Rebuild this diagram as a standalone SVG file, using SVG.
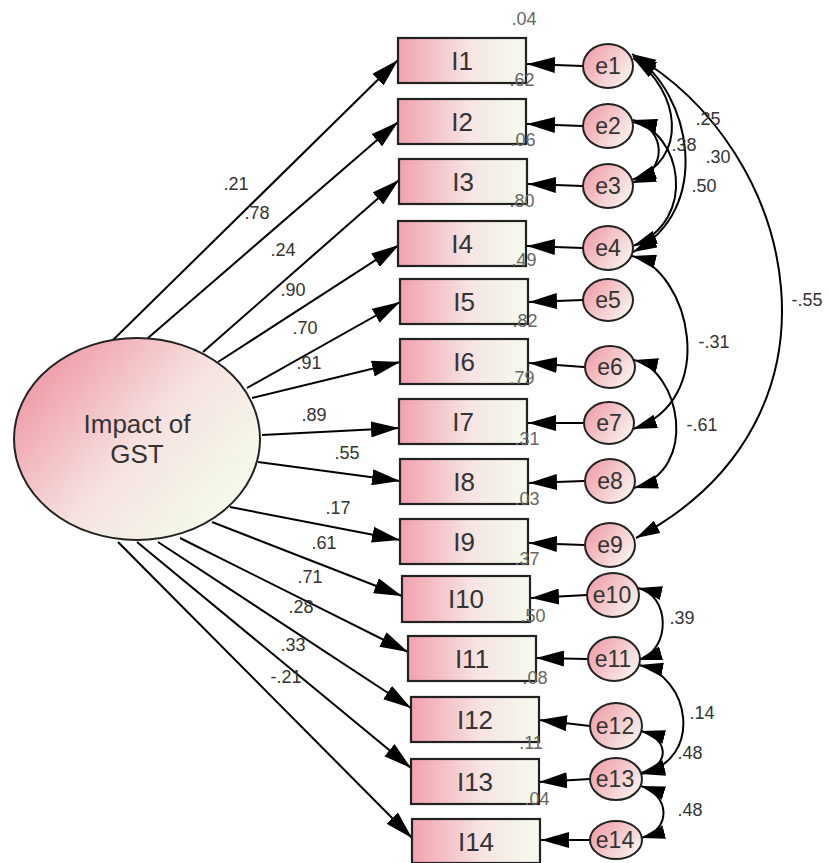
<svg xmlns="http://www.w3.org/2000/svg" width="829" height="863" viewBox="0 0 829 863">
<defs>
<linearGradient id="gRect" x1="0" y1="0" x2="1" y2="0">
<stop offset="0" stop-color="#f2a2ad"/>
<stop offset="0.55" stop-color="#f6e4e3"/>
<stop offset="1" stop-color="#f4fbee"/>
</linearGradient>
<linearGradient id="gErr" x1="0" y1="0.2" x2="1" y2="0.8">
<stop offset="0" stop-color="#ef9ca7"/>
<stop offset="1" stop-color="#f8f6ef"/>
</linearGradient>
<linearGradient id="gBig" x1="0" y1="0.25" x2="0.85" y2="0.85">
<stop offset="0" stop-color="#ef98a4"/>
<stop offset="0.55" stop-color="#f6e2e0"/>
<stop offset="1" stop-color="#f3faea"/>
</linearGradient>
<marker id="arr" viewBox="0 0 28 16" markerWidth="28" markerHeight="16" refX="28" refY="8" orient="auto" markerUnits="userSpaceOnUse">
<path d="M0,0 L28,8 L0,16 z" fill="#000"/>
</marker>
<marker id="carr" viewBox="0 0 24 14" markerWidth="24" markerHeight="14" refX="24" refY="7" orient="auto-start-reverse" markerUnits="userSpaceOnUse">
<path d="M0,0 L24,7 L0,14 z" fill="#000"/>
</marker>
</defs>
<style>
.obs{fill:url(#gRect);stroke:#222;stroke-width:2.2}
.err{fill:url(#gErr);stroke:#222;stroke-width:2}
.big{fill:url(#gBig);stroke:#222;stroke-width:2}
.lbl{font-family:"Liberation Sans",Arial,sans-serif;font-size:26px;fill:#333;text-anchor:middle}
.elbl{font-family:"Liberation Sans",Arial,sans-serif;font-size:23px;fill:#333;text-anchor:middle}
.coef{font-family:"Liberation Sans",Arial,sans-serif;font-size:18px;fill:#333;text-anchor:middle}
.r2{font-family:"Liberation Sans",Arial,sans-serif;font-size:18px;fill:#666;text-anchor:middle}
.path{fill:none;stroke:#000;stroke-width:2;marker-end:url(#arr)}
.cov{fill:none;stroke:#000;stroke-width:2;marker-start:url(#carr);marker-end:url(#carr)}
</style>
<rect width="829" height="863" fill="#fff"/>

<g id="connectors">
<line class="path" x1="113" y1="340" x2="398" y2="60"/>
<line class="path" x1="148" y1="338" x2="398" y2="122"/>
<line class="path" x1="203" y1="352" x2="399" y2="180"/>
<line class="path" x1="218" y1="362" x2="399" y2="245"/>
<line class="path" x1="247" y1="388" x2="400" y2="302"/>
<line class="path" x1="252" y1="398" x2="400" y2="362"/>
<line class="path" x1="262" y1="435" x2="399" y2="428"/>
<line class="path" x1="258" y1="462" x2="400" y2="481"/>
<line class="path" x1="230" y1="507" x2="400" y2="540"/>
<line class="path" x1="212" y1="522" x2="402" y2="596"/>
<line class="path" x1="180" y1="538" x2="408" y2="652"/>
<line class="path" x1="158" y1="542" x2="411" y2="708"/>
<line class="path" x1="137" y1="542" x2="411" y2="768"/>
<line class="path" x1="118" y1="542" x2="412" y2="838"/>

<line class="path" x1="583" y1="66" x2="527" y2="64"/>
<line class="path" x1="583" y1="126" x2="527" y2="124"/>
<line class="path" x1="583" y1="186" x2="528" y2="184"/>
<line class="path" x1="583" y1="248" x2="527" y2="246"/>
<line class="path" x1="583" y1="300" x2="529" y2="302"/>
<line class="path" x1="584" y1="367" x2="529" y2="363"/>
<line class="path" x1="583" y1="423" x2="528" y2="423"/>
<line class="path" x1="584" y1="481" x2="529" y2="483"/>
<line class="path" x1="584" y1="545" x2="529" y2="543"/>
<line class="path" x1="587" y1="595" x2="531" y2="598"/>
<line class="path" x1="588" y1="659" x2="536" y2="658"/>
<line class="path" x1="590" y1="726" x2="539" y2="720"/>
<line class="path" x1="590" y1="779" x2="539" y2="782"/>
<line class="path" x1="590" y1="840" x2="541" y2="840"/>

<path class="cov" d="M632,54 C800,150 860,420 636,538"/>
<path class="cov" d="M633,56 C690,90 715,210 633,252"/>
<path class="cov" d="M633,58 C680,90 690,160 632,180"/>
<path class="cov" d="M633,120 C665,128 670,170 632,183"/>
<path class="cov" d="M633,122 C680,130 700,220 633,246"/>
<path class="cov" d="M632,256 C690,270 720,400 633,429"/>
<path class="cov" d="M634,360 C680,370 700,470 634,488"/>
<path class="cov" d="M638,588 C670,595 672,650 638,660"/>
<path class="cov" d="M639,665 C690,675 705,760 641,774"/>
<path class="cov" d="M641,731 C668,738 672,765 641,773"/>
<path class="cov" d="M641,786 C670,795 672,830 641,838"/>
</g>

<g id="impact">
<ellipse class="big" cx="137" cy="439" rx="123" ry="101"/>
<text class="lbl" x="137" y="433">Impact of</text>
<text class="lbl" x="137" y="463">GST</text>
</g>

<g id="I1"><rect class="obs" x="398" y="38" width="128" height="45"/><text class="lbl" x="462" y="70">I1</text></g>
<g id="I2"><rect class="obs" x="398" y="99" width="128" height="45"/><text class="lbl" x="462" y="131">I2</text></g>
<g id="I3"><rect class="obs" x="399" y="159" width="128" height="45"/><text class="lbl" x="463" y="191">I3</text></g>
<g id="I4"><rect class="obs" x="398" y="221" width="128" height="45"/><text class="lbl" x="462" y="253">I4</text></g>
<g id="I5"><rect class="obs" x="400" y="279" width="128" height="45"/><text class="lbl" x="464" y="311">I5</text></g>
<g id="I6"><rect class="obs" x="400" y="339" width="128" height="45"/><text class="lbl" x="464" y="371">I6</text></g>
<g id="I7"><rect class="obs" x="399" y="399" width="128" height="45"/><text class="lbl" x="463" y="431">I7</text></g>
<g id="I8"><rect class="obs" x="400" y="459" width="128" height="45"/><text class="lbl" x="464" y="491">I8</text></g>
<g id="I9"><rect class="obs" x="400" y="519" width="128" height="45"/><text class="lbl" x="464" y="551">I9</text></g>
<g id="I10"><rect class="obs" x="402" y="576" width="128" height="46"/><text class="lbl" x="466" y="608">I10</text></g>
<g id="I11"><rect class="obs" x="408" y="636" width="128" height="45"/><text class="lbl" x="472" y="668">I11</text></g>
<g id="I12"><rect class="obs" x="411" y="697" width="128" height="45"/><text class="lbl" x="475" y="729">I12</text></g>
<g id="I13"><rect class="obs" x="411" y="759" width="128" height="45"/><text class="lbl" x="475" y="791">I13</text></g>
<g id="I14"><rect class="obs" x="412" y="819" width="128" height="44"/><text class="lbl" x="476" y="851">I14</text></g>

<g id="e1"><ellipse class="err" cx="608" cy="66" rx="25" ry="22"/><text class="elbl" x="608" y="74">e1</text></g>
<g id="e2"><ellipse class="err" cx="608" cy="126" rx="25" ry="22"/><text class="elbl" x="608" y="134">e2</text></g>
<g id="e3"><ellipse class="err" cx="608" cy="186" rx="25" ry="22"/><text class="elbl" x="608" y="194">e3</text></g>
<g id="e4"><ellipse class="err" cx="608" cy="248" rx="25" ry="22"/><text class="elbl" x="608" y="256">e4</text></g>
<g id="e5"><ellipse class="err" cx="608" cy="300" rx="25" ry="21"/><text class="elbl" x="608" y="308">e5</text></g>
<g id="e6"><ellipse class="err" cx="610" cy="367" rx="25" ry="21"/><text class="elbl" x="610" y="375">e6</text></g>
<g id="e7"><ellipse class="err" cx="609" cy="423" rx="25" ry="21"/><text class="elbl" x="609" y="431">e7</text></g>
<g id="e8"><ellipse class="err" cx="610" cy="481" rx="25" ry="22"/><text class="elbl" x="610" y="489">e8</text></g>
<g id="e9"><ellipse class="err" cx="610" cy="545" rx="25" ry="22"/><text class="elbl" x="610" y="553">e9</text></g>
<g id="e10"><ellipse class="err" cx="613" cy="595" rx="26" ry="22"/><text class="elbl" x="612" y="603">e10</text></g>
<g id="e11"><ellipse class="err" cx="614" cy="659" rx="26" ry="22"/><text class="elbl" x="613" y="667">e11</text></g>
<g id="e12"><ellipse class="err" cx="616" cy="726" rx="26" ry="23"/><text class="elbl" x="615" y="734">e12</text></g>
<g id="e13"><ellipse class="err" cx="616" cy="779" rx="26" ry="21"/><text class="elbl" x="615" y="787">e13</text></g>
<g id="e14"><ellipse class="err" cx="616" cy="840" rx="26" ry="19"/><text class="elbl" x="615" y="848">e14</text></g>

<g id="coefficients">
<text class="coef" x="236" y="190">.21</text>
<text class="coef" x="257" y="219">.78</text>
<text class="coef" x="283" y="256">.24</text>
<text class="coef" x="293" y="296">.90</text>
<text class="coef" x="305" y="334">.70</text>
<text class="coef" x="309" y="369">.91</text>
<text class="coef" x="314" y="421">.89</text>
<text class="coef" x="347" y="459">.55</text>
<text class="coef" x="338" y="514">.17</text>
<text class="coef" x="324" y="549">.61</text>
<text class="coef" x="310" y="583">.71</text>
<text class="coef" x="301" y="613">.28</text>
<text class="coef" x="293" y="651">.33</text>
<text class="coef" x="286" y="683">-.21</text>

<text class="coef" x="708" y="125">.25</text>
<text class="coef" x="684" y="151">.38</text>
<text class="coef" x="718" y="163">.30</text>
<text class="coef" x="704" y="192">.50</text>
<text class="coef" x="807" y="306">-.55</text>
<text class="coef" x="714" y="348">-.31</text>
<text class="coef" x="702" y="431">-.61</text>
<text class="coef" x="682" y="624">.39</text>
<text class="coef" x="702" y="719">.14</text>
<text class="coef" x="690" y="759">.48</text>
<text class="coef" x="690" y="816">.48</text>
</g>

<g id="r-squared">
<text class="r2" x="524" y="25">.04</text>
<text class="r2" x="522" y="86">.62</text>
<text class="r2" x="523" y="146">.06</text>
<text class="r2" x="522" y="207">.80</text>
<text class="r2" x="524" y="266">.49</text>
<text class="r2" x="525" y="327">.82</text>
<text class="r2" x="522" y="384">.79</text>
<text class="r2" x="527" y="445">.31</text>
<text class="r2" x="527" y="505">.03</text>
<text class="r2" x="527" y="565">.37</text>
<text class="r2" x="533" y="622">.50</text>
<text class="r2" x="535" y="684">.08</text>
<text class="r2" x="531" y="749">.11</text>
<text class="r2" x="537" y="805">.04</text>
</g>
</svg>
